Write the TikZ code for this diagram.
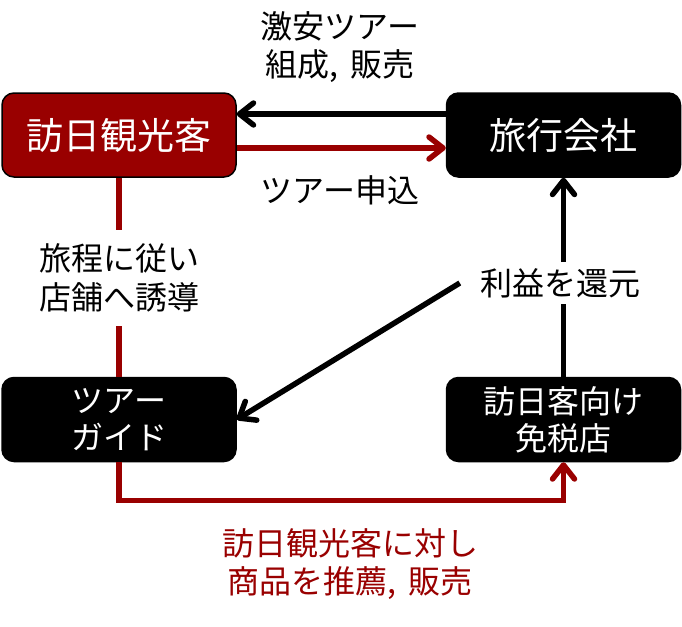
\documentclass[tikz,border=0pt]{standalone}
\usepackage{fontspec}
\setmainfont{Noto Sans CJK JP}
\usetikzlibrary{arrows.meta}
\definecolor{dred}{HTML}{990000}
\begin{document}
\begin{tikzpicture}[x=1pt,y=-1pt,
  box/.style={rounded corners=12pt, draw=black, line width=1.5pt, minimum width=234pt, minimum height=84pt, align=center, text=white, font=\fontsize{32}{37}\selectfont},
  big/.style={font=\fontsize{37}{40}\selectfont},
  lab/.style={align=center, font=\fontsize{32}{38.5}\selectfont},
  conn/.style={line width=5.5pt},
  arr/.style={-{Straight Barb[length=14pt,width=22pt,round]}}]
\useasboundingbox (0,0) rectangle (682,626);
\node[box, big, fill=dred] (tourist) at (119,135) {訪日観光客};
\node[box, big, fill=black] (agency) at (563.5,135) {旅行会社};
\node[box, fill=black] (guide) at (119,419.5) {ツアー\\ガイド};
\node[box, fill=black] (shop) at (563.5,419.5) {訪日客向け\\免税店};
\node[lab] (l1) at (340,47) {激安ツアー\\組成,\hspace{5pt} 販売};
\node[lab] (l2) at (340,190) {ツアー申込};
\node[lab, inner ysep=14pt] (l3) at (119,278) {旅程に従い\\店舗へ誘導};
\node[lab, inner xsep=20pt, inner ysep=6pt] (l4) at (560,283) {利益を還元};
\node[lab, text=dred] (l5) at (350,564) {訪日観光客に対し\\商品を推薦,\hspace{5pt} 販売};
\draw[conn, arr] ([yshift=21pt]agency.west) -- ([yshift=21pt]tourist.east);
\draw[conn, arr, dred] ([yshift=-13pt]tourist.east) -- ([yshift=-13pt]agency.west);
\draw[conn, dred] (tourist.south) -- (l3.north);
\draw[conn, dred] (l3.south) -- (guide.north);
\draw[conn] (shop.north) -- (shop.north |- l4.south);
\draw[conn, arr] (agency.south |- l4.north) -- (agency.south);
\draw[conn, arr] (l4.west) -- (guide.east);
\draw[conn, dred, arr] (guide.south) -- ++(0,38) -| (shop.south);
\end{tikzpicture}
\end{document}
